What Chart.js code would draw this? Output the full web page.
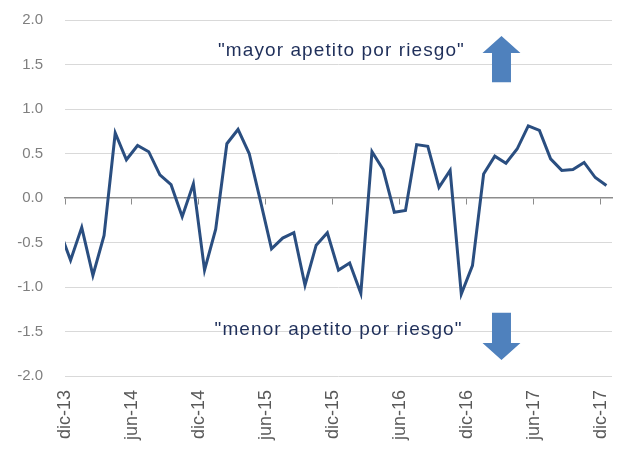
<!DOCTYPE html>
<html>
<head>
<meta charset="utf-8">
<script src="https://cdn.jsdelivr.net/npm/chart.js@4.4.1/dist/chart.umd.min.js"></script>
<style>
  html, body { margin: 0; padding: 0; background: #ffffff; }
  #wrap { width: 626px; height: 457px; position: relative; }
</style>
</head>
<body>
<div id="wrap"><canvas id="c" width="626" height="457"></canvas></div>
<script>
// Monthly periods (first one, nov-13, falls just left of the visible axis start)
const months = ['nov-13',
  'dic-13','ene-14','feb-14','mar-14','abr-14','may-14','jun-14','jul-14','ago-14','sep-14','oct-14','nov-14',
  'dic-14','ene-15','feb-15','mar-15','abr-15','may-15','jun-15','jul-15','ago-15','sep-15','oct-15','nov-15',
  'dic-15','ene-16','feb-16','mar-16','abr-16','may-16','jun-16','jul-16','ago-16','sep-16','oct-16','nov-16',
  'dic-16','ene-17','feb-17','mar-17','abr-17','may-17','jun-17','jul-17','ago-17','sep-17','oct-17','nov-17',
  'dic-17'];
// Risk appetite index values
const values = [-0.36,
  -0.70, -0.33, -0.87, -0.42, 0.73, 0.43, 0.59, 0.52, 0.26, 0.15, -0.21, 0.16,
  -0.81, -0.35, 0.61, 0.77, 0.50, -0.03, -0.57, -0.45, -0.39, -0.98, -0.53, -0.39,
  -0.81, -0.73, -1.07, 0.52, 0.32, -0.16, -0.14, 0.60, 0.58, 0.12, 0.31, -1.08,
  -0.76, 0.27, 0.47, 0.39, 0.55, 0.81, 0.76, 0.44, 0.31, 0.32, 0.40, 0.23,
  0.14];
// Axis tick labels (every six months, starting at dic-13)
const tickLabels = ['dic-13','jun-14','dic-14','jun-15','dic-15','jun-16','dic-16','jun-17','dic-17'];
const yTicks = [-2.0, -1.5, -1.0, -0.5, 0.0, 0.5, 1.0, 1.5, 2.0];
const upperText = '"mayor apetito por riesgo"';
const lowerText = '"menor apetito por riesgo"';

// month-slot positions: slot 0 starts at dic-13; each value sits mid-slot
const startIdx = months.indexOf('dic-13');
const points = values.map((v, i) => ({ x: i - startIdx + 0.5, y: v }));
const tickPositions = tickLabels.map(l => months.indexOf(l) - startIdx);
const xMax = months.length - startIdx;

const FONT = "'Liberation Sans', Arial, sans-serif";

const annotations = {
  id: 'annotations',
  afterDatasetsDraw(chart) {
    const { ctx } = chart;
    const xs = chart.scales.x, ys = chart.scales.y;
    const X = v => xs.getPixelForValue(v);
    const Y = v => ys.getPixelForValue(v);
    ctx.save();
    ctx.fillStyle = '#1F2F5A';
    ctx.font = '19px ' + FONT;
    if ('letterSpacing' in ctx) ctx.letterSpacing = '1.1px';
    ctx.textAlign = 'left';
    ctx.textBaseline = 'alphabetic';
    ctx.fillText(upperText, X(13.7), Y(1.59));
    ctx.fillText(lowerText, X(13.4), Y(-1.54));
    ctx.restore();

    // arrows
    ctx.save();
    ctx.fillStyle = '#4F81BD';
    const cx = 39.1, hw = 1.7, sw = 0.85;
    // up arrow
    ctx.beginPath();
    ctx.moveTo(X(cx), Y(1.82));
    ctx.lineTo(X(cx + hw), Y(1.63));
    ctx.lineTo(X(cx + sw), Y(1.63));
    ctx.lineTo(X(cx + sw), Y(1.30));
    ctx.lineTo(X(cx - sw), Y(1.30));
    ctx.lineTo(X(cx - sw), Y(1.63));
    ctx.lineTo(X(cx - hw), Y(1.63));
    ctx.closePath();
    ctx.fill();
    // down arrow
    ctx.beginPath();
    ctx.moveTo(X(cx), Y(-1.82));
    ctx.lineTo(X(cx + hw), Y(-1.63));
    ctx.lineTo(X(cx + sw), Y(-1.63));
    ctx.lineTo(X(cx + sw), Y(-1.29));
    ctx.lineTo(X(cx - sw), Y(-1.29));
    ctx.lineTo(X(cx - sw), Y(-1.63));
    ctx.lineTo(X(cx - hw), Y(-1.63));
    ctx.closePath();
    ctx.fill();
    ctx.restore();
  }
};

const setTicks = scale => { scale.ticks = tickPositions.map(v => ({ value: v })); };

new Chart(document.getElementById('c'), {
  type: 'line',
  data: {
    datasets: [{
      data: points,
      borderColor: '#2A4E80',
      borderWidth: 3,
      pointRadius: 0,
      tension: 0,
      fill: false
    }]
  },
  options: {
    responsive: false,
    animation: false,
    events: [],
    layout: { padding: { top: 20, right: 14, left: 0, bottom: 0 } },
    plugins: { legend: { display: false }, tooltip: { enabled: false } },
    scales: {
      x: {
        type: 'linear',
        position: 'bottom',
        min: 0,
        max: xMax,
        afterBuildTicks: setTicks,
        afterFit: s => { s.height = 81; s.paddingLeft = 0; s.paddingRight = 0; },
        grid: { display: false, drawTicks: false },
        border: { display: false },
        ticks: {
          autoSkip: false,
          minRotation: 90,
          maxRotation: 90,
          padding: 14,
          color: '#595959',
          font: { family: FONT, size: 18 },
          callback: (v, i) => tickLabels[i]
        }
      },
      x2: {
        type: 'linear',
        axis: 'x',
        position: { y: 0 },
        min: 0,
        max: xMax,
        afterBuildTicks: setTicks,
        afterFit: s => { s.paddingLeft = 0; s.paddingRight = 0; },
        grid: { drawOnChartArea: false, drawTicks: true, tickLength: 6, tickColor: '#8C8C8C', tickWidth: 1 },
        border: { display: true, color: '#8C8C8C', width: 1.5 },
        ticks: { display: false }
      },
      y: {
        min: -2,
        max: 2,
        afterBuildTicks: s => { s.ticks = yTicks.map(v => ({ value: v })); },
        afterFit: s => { s.width = 65; s.paddingTop = 0; s.paddingBottom = 0; },
        grid: {
          drawTicks: false,
          color: c => (c.tick && c.tick.value === 0) ? 'rgba(0,0,0,0)' : '#D9D9D9',
          lineWidth: 1
        },
        border: { display: false },
        ticks: {
          padding: 22,
          color: '#7F7F7F',
          font: { family: FONT, size: 15 },
          callback: v => v.toFixed(1)
        }
      }
    }
  },
  plugins: [annotations]
});
</script>
</body>
</html>
